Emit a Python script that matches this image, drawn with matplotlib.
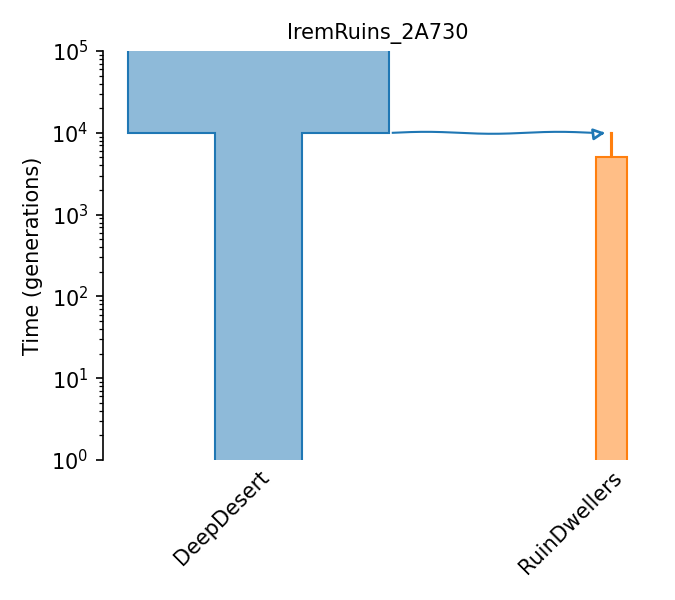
import numpy as np
import matplotlib
matplotlib.use("Agg")
from matplotlib import pyplot as plt

title = "IremRuins_2A730"
demes = ["DeepDesert", "RuinDwellers"]
positions = [0, 20300]
colors = ["tab:blue", "tab:orange"]

# epochs as (start_time, end_time, size); inf start is clipped by ylim
deep_epochs = [(np.inf, 1e4, 15000), (1e4, 0, 5000)]
ruin_epochs = [(1e4, 5000, 50), (5000, 0, 1800)]
epochs = [deep_epochs, ruin_epochs]

pulse_source = 0
pulse_dest = 1
pulse_time = 1e4


def outline(x, eps):
    left, right = [], []
    for start, end, size in eps:
        t0 = 1e7 if np.isinf(start) else start
        t1 = 1e-2 if end == 0 else end
        left += [(x - size / 2, t0), (x - size / 2, t1)]
        right += [(x + size / 2, t0), (x + size / 2, t1)]
    pts = left + right[::-1]
    return [p[0] for p in pts], [p[1] for p in pts]


fig = plt.figure(figsize=(4.5, 4), dpi=150)
ax = fig.add_axes([0.1526, 0.2333, 0.8144, 0.6817])
ax.set_yscale("log")

for x, eps, c in zip(positions, epochs, colors):
    xs, ys = outline(x, eps)
    ax.fill(xs, ys, facecolor=c, alpha=0.5, edgecolor="none")
    ax.plot(xs + [xs[0]], ys + [ys[0]], color=c, lw=1, solid_joinstyle="miter")

# pulse drawn as a wavy line with an open arrowhead
src_w = [s for a, b, s in epochs[pulse_source] if a > pulse_time >= b][0]
x0 = positions[pulse_source] + src_w / 2 + 230
x1 = positions[pulse_dest] - 350
wx = np.linspace(x0, x1 - 200, 200)
phase = (wx - x0) / (x1 - x0) * 2 * np.pi * 1.6
wy = pulse_time * 10 ** (0.012 * np.sin(phase))
ax.plot(wx, wy, color="tab:blue", lw=1)
ax.annotate("", xy=(x1, pulse_time), xytext=(x1 - 200, pulse_time * 10 ** (0.012 * np.sin(phase[-1]))),
            arrowprops=dict(arrowstyle="-|>", color="tab:blue", fc="white", lw=1.3,
                            mutation_scale=11, shrinkA=0, shrinkB=0))

ax.set_xlim(-8942, 22686)
ax.set_ylim(1, 1e5)
ax.set_xticks(positions)
ax.set_xticklabels(demes, rotation=45, ha="right", rotation_mode="anchor")
ax.tick_params(axis="x", length=0)
ax.set_ylabel("Time (generations)")
ax.set_title(title, fontsize=10)
for side in ["top", "right", "bottom"]:
    ax.spines[side].set_visible(False)

fig.savefig("out.png")
